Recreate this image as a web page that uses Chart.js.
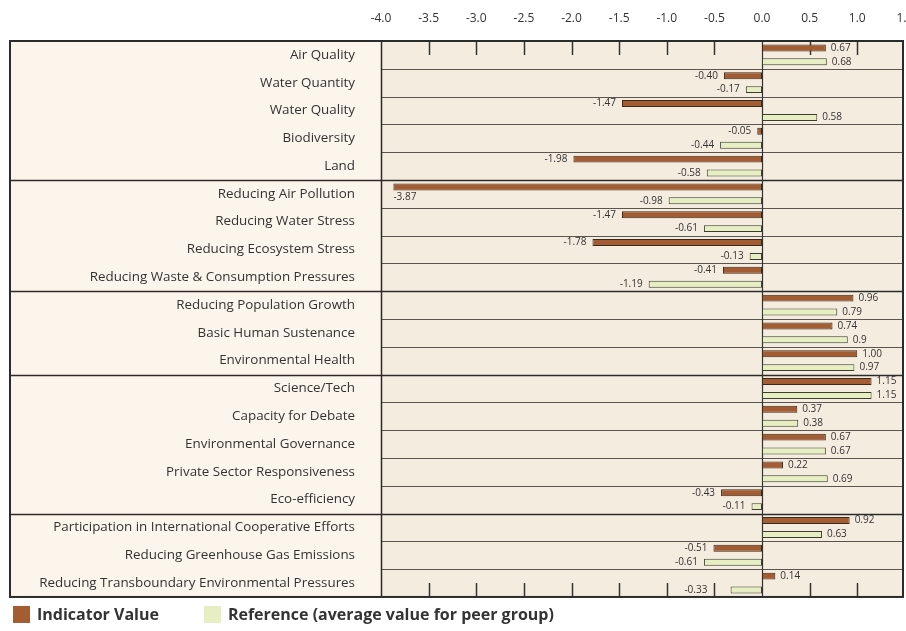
<!DOCTYPE html>
<html>
<head>
<meta charset="utf-8">
<script src="https://cdn.jsdelivr.net/npm/chart.js@4.4.1/dist/chart.umd.min.js"></script>
<style>
  html, body { margin: 0; padding: 0; background: #fff; }
</style>
</head>
<body>
<canvas id="myChart" width="906" height="631"></canvas>
<script>
const categories = [
  'Air Quality', 'Water Quantity', 'Water Quality', 'Biodiversity', 'Land',
  'Reducing Air Pollution', 'Reducing Water Stress', 'Reducing Ecosystem Stress',
  'Reducing Waste & Consumption Pressures',
  'Reducing Population Growth', 'Basic Human Sustenance', 'Environmental Health',
  'Science/Tech', 'Capacity for Debate', 'Environmental Governance',
  'Private Sector Responsiveness', 'Eco-efficiency',
  'Participation in International Cooperative Efforts',
  'Reducing Greenhouse Gas Emissions',
  'Reducing Transboundary Environmental Pressures'
];
const indicatorValues = [0.67, -0.40, -1.47, -0.05, -1.98, -3.87, -1.47, -1.78, -0.41,
  0.96, 0.74, 1.00, 1.15, 0.37, 0.67, 0.22, -0.43, 0.92, -0.51, 0.14];
const referenceValues = [0.68, -0.17, 0.58, -0.44, -0.58, -0.98, -0.61, -0.13, -1.19,
  0.79, 0.9, 0.97, 1.15, 0.38, 0.67, 0.69, -0.11, 0.63, -0.61, -0.33];
// value labels as printed on the chart
const indicatorText = ['0.67', '-0.40', '-1.47', '-0.05', '-1.98', '-3.87', '-1.47', '-1.78', '-0.41',
  '0.96', '0.74', '1.00', '1.15', '0.37', '0.67', '0.22', '-0.43', '0.92', '-0.51', '0.14'];
const referenceText = ['0.68', '-0.17', '0.58', '-0.44', '-0.58', '-0.98', '-0.61', '-0.13', '-1.19',
  '0.79', '0.9', '0.97', '1.15', '0.38', '0.67', '0.69', '-0.11', '0.63', '-0.61', '-0.33'];
const tickValues = [-4.0, -3.5, -3.0, -2.5, -2.0, -1.5, -1.0, -0.5, 0.0, 0.5, 1.0, 1.5];
const groupEnds = [4, 8, 11, 16]; // last row of each group

const FONT = '"Open Sans", "DejaVu Sans", sans-serif';
const TICK_LEN = 14;

// backgrounds, row lines, tick marks, frame
const framePlugin = {
  id: 'frame',
  beforeDraw(chart) {
    const ctx = chart.ctx, a = chart.chartArea;
    ctx.save();
    ctx.fillStyle = '#fcf5eb';
    ctx.fillRect(10, a.top, a.left - 10, a.bottom - a.top);
    ctx.fillStyle = '#f4ecdf';
    ctx.fillRect(a.left, a.top, a.right - a.left, a.bottom - a.top);
    ctx.restore();
  },
  beforeDatasetsDraw(chart) {
    const ctx = chart.ctx, a = chart.chartArea;
    const ys = chart.scales.y, xs = chart.scales.x;
    ctx.save();
    for (let i = 0; i < categories.length - 1; i++) {
      const y = Math.round((ys.getPixelForValue(i) + ys.getPixelForValue(i + 1)) / 2) + 0.5;
      const isGroup = groupEnds.includes(i);
      ctx.beginPath();
      ctx.strokeStyle = isGroup ? '#2b2b2b' : '#5a5550';
      ctx.lineWidth = isGroup ? 1.6 : 1;
      ctx.moveTo(isGroup ? 10 : a.left, y);
      ctx.lineTo(a.right, y);
      ctx.stroke();
    }
    // short tick marks top and bottom
    ctx.strokeStyle = '#333';
    tickValues.forEach(v => {
      const x = Math.round(xs.getPixelForValue(v)) + 0.5;
      if (x <= a.left + 2 || x >= a.right - 2) return;
      ctx.beginPath();
      if (v === 0) {
        ctx.lineWidth = 1.2;
        ctx.moveTo(x, a.top); ctx.lineTo(x, a.bottom);
      } else {
        ctx.lineWidth = 1.5;
        ctx.moveTo(x, a.top); ctx.lineTo(x, a.top + TICK_LEN);
        ctx.moveTo(x, a.bottom - TICK_LEN); ctx.lineTo(x, a.bottom);
      }
      ctx.stroke();
    });
    ctx.restore();
  },
  afterDatasetsDraw(chart) {
    const ctx = chart.ctx, a = chart.chartArea, xs = chart.scales.x;
    const tickPx = tickValues.filter(v => v !== 0).map(v => xs.getPixelForValue(v));
    ctx.save();
    ctx.font = '10px ' + FONT;
    ctx.fillStyle = '#333';
    ctx.textBaseline = 'middle';
    chart.data.datasets.forEach((ds, di) => {
      const texts = di === 0 ? indicatorText : referenceText;
      chart.getDatasetMeta(di).data.forEach((bar, i) => {
        const v = ds.data[i], t = texts[i];
        const w = ctx.measureText(t).width;
        if (v >= 0) {
          ctx.textAlign = 'left';
          ctx.fillText(t, bar.x + 5, bar.y);
        } else if (bar.x - 6 - w < a.left) {
          ctx.textAlign = 'left';
          ctx.fillText(t, bar.x, bar.y + 10);
        } else {
          let right = bar.x - 6;
          const inTickZone = bar.y > a.bottom - TICK_LEN - 4 || bar.y < a.top + TICK_LEN + 4;
          if (inTickZone) {
            const hit = tickPx.find(px => px > right - w - 3 && px < right + 3);
            if (hit !== undefined) right = hit - 7;
          }
          ctx.textAlign = 'right';
          ctx.fillText(t, right, bar.y);
        }
      });
    });
    ctx.restore();
  },
  afterDraw(chart) {
    const ctx = chart.ctx, a = chart.chartArea;
    ctx.save();
    ctx.strokeStyle = '#2b2b2b';
    ctx.lineWidth = 2;
    ctx.strokeRect(10, a.top, a.right - 10, a.bottom - a.top);
    ctx.lineWidth = 1.5;
    ctx.beginPath();
    ctx.moveTo(a.left + 0.5, a.top); ctx.lineTo(a.left + 0.5, a.bottom);
    ctx.stroke();

    // legend
    ctx.font = 'bold 16px ' + FONT;
    ctx.textBaseline = 'middle';
    ctx.textAlign = 'left';
    let x = 13;
    const y = a.bottom + 9;
    chart.data.datasets.forEach(ds => {
      ctx.fillStyle = ds.backgroundColor;
      ctx.fillRect(x, y, 17, 17);
      ctx.fillStyle = '#333';
      ctx.fillText(ds.label, x + 24, y + 9);
      x += 24 + ctx.measureText(ds.label).width + 45;
    });
    ctx.restore();
  }
};

new Chart(document.getElementById('myChart'), {
  type: 'bar',
  data: {
    labels: categories,
    datasets: [
      {
        label: 'Indicator Value',
        data: indicatorValues,
        backgroundColor: '#a45c33',
        borderColor: '#3a2a1e',
        borderWidth: 1,
        borderSkipped: false
      },
      {
        label: 'Reference (average value for peer group)',
        data: referenceValues,
        backgroundColor: '#e6eec2',
        borderColor: '#3c3c30',
        borderWidth: 1,
        borderSkipped: false
      }
    ]
  },
  options: {
    indexAxis: 'y',
    responsive: false,
    animation: false,
    events: [],
    categoryPercentage: 1.0,
    barPercentage: 0.5,
    layout: { autoPadding: false, padding: { left: 10, right: 3, top: 0, bottom: 28 } },
    plugins: {
      legend: { display: false },
      tooltip: { enabled: false },
      title: { display: false }
    },
    scales: {
      x: {
        position: 'top',
        min: -4.0,
        max: 1.48,
        grid: { display: false, drawTicks: false },
        border: { display: false },
        afterBuildTicks: scale => { scale.ticks = tickValues.map(v => ({ value: v })); },
        afterFit: scale => { scale.height = 41; scale.paddingLeft = 0; scale.paddingRight = 0; },
        ticks: {
          autoSkip: false,
          maxRotation: 0,
          padding: 15,
          color: '#333',
          font: { family: FONT, size: 12 },
          callback: v => v.toFixed(1)
        }
      },
      y: {
        grid: { display: false, drawTicks: false },
        border: { display: false },
        afterFit: scale => { scale.width = 371; },
        ticks: {
          padding: 26,
          color: '#333',
          font: { family: FONT, size: 13.4 }
        }
      }
    }
  },
  plugins: [framePlugin]
});
</script>
</body>
</html>
